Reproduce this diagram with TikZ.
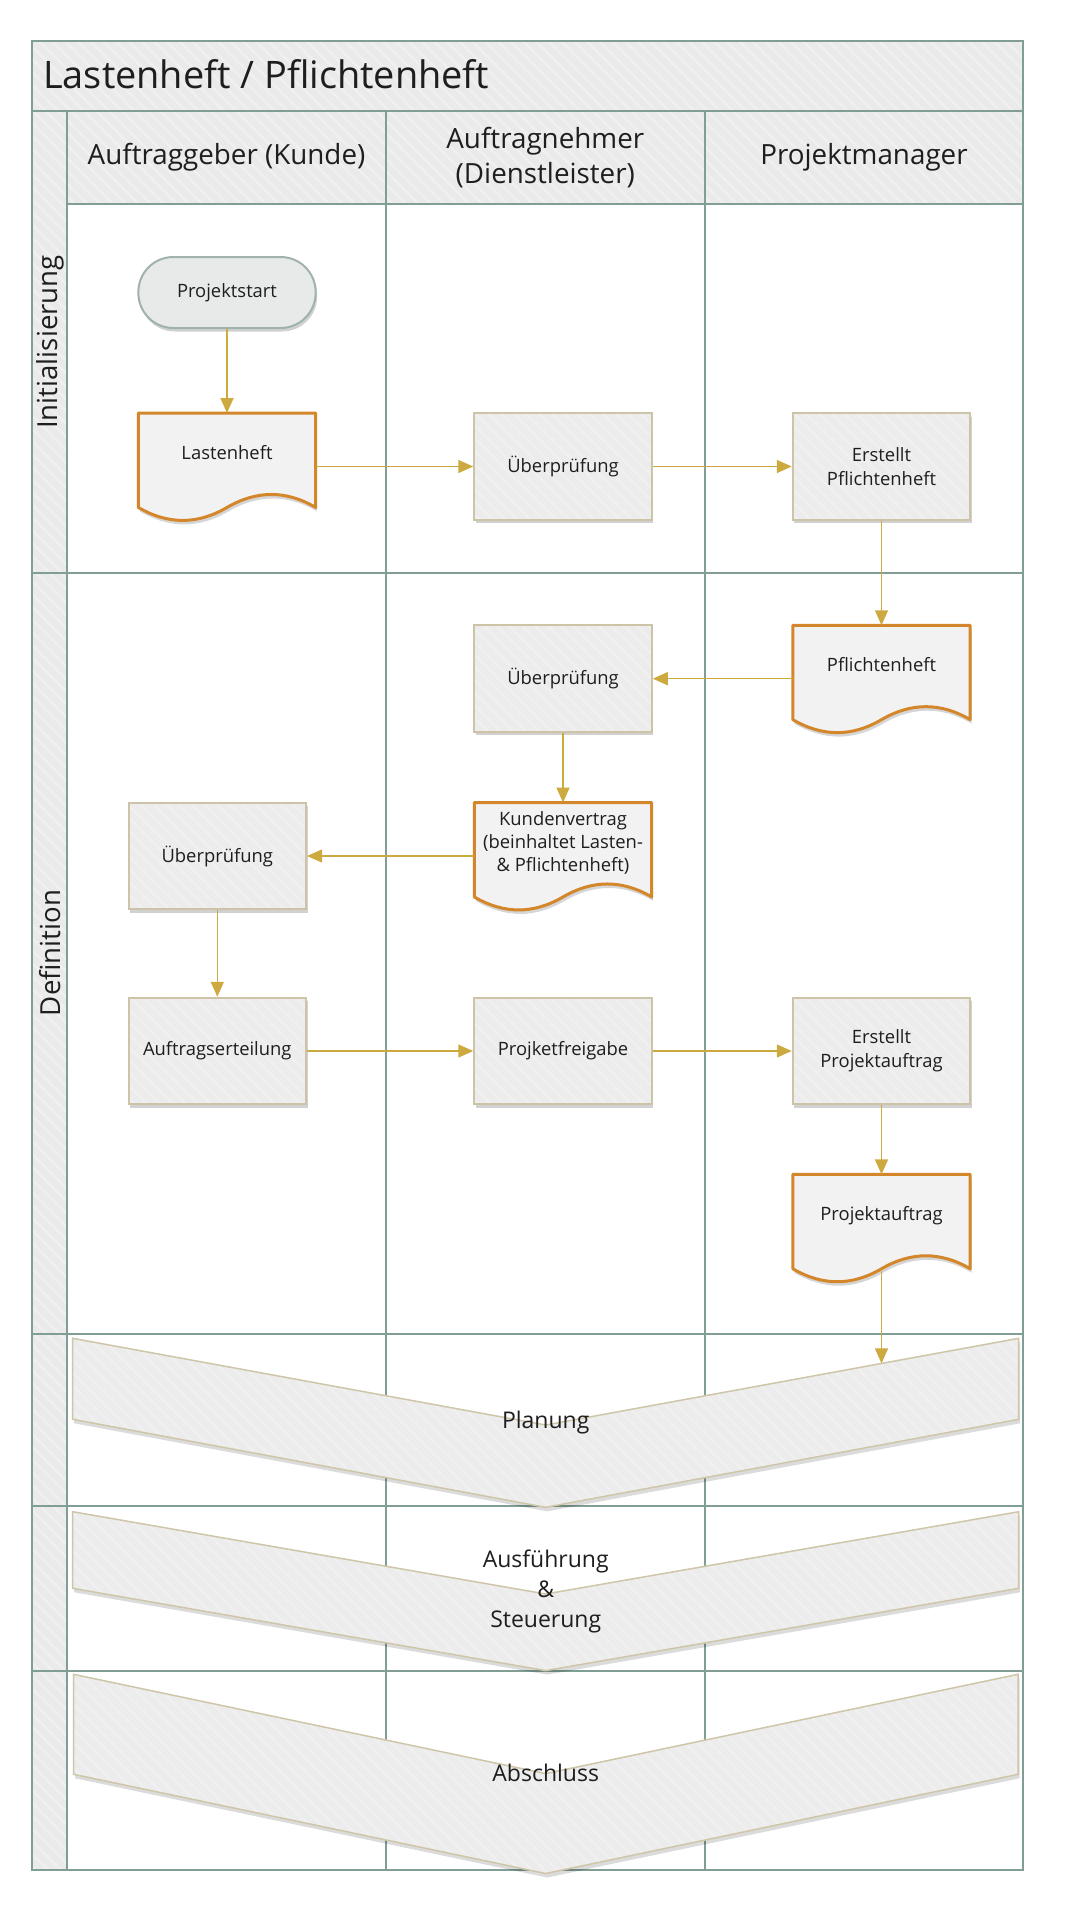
\documentclass[tikz,border=0pt]{standalone}
\usepackage{fontspec}
\setmainfont{Open Sans}
\usetikzlibrary{arrows.meta,calc,patterns.meta,shadows}
\definecolor{laneline}{HTML}{809E95}
\definecolor{hdrfill}{HTML}{EAEAEA}
\definecolor{stripe}{HTML}{F0F0F0}
\definecolor{boxfill}{HTML}{ECECEC}
\definecolor{boxline}{HTML}{CDC4A8}
\definecolor{docfill}{HTML}{F2F2F2}
\definecolor{docline}{HTML}{D4862A}
\definecolor{startfill}{HTML}{E8EAE9}
\definecolor{startline}{HTML}{9FB3AC}
\definecolor{chevfill}{HTML}{ECECEC}
\definecolor{chevline}{HTML}{CFC6A9}
\definecolor{arrowcol}{HTML}{CDAA3F}
\definecolor{txt}{HTML}{1E1E1E}
\newcommand{\boxfont}{\fontsize{18.4}{24.3}\selectfont}
\newcommand{\titlefont}{\fontsize{37.9}{45}\selectfont}
\newcommand{\hdrfont}{\fontsize{27.8}{34.5}\selectfont}
\newcommand{\phasefont}{\fontsize{27.6}{33}\selectfont}
\newcommand{\chevfont}{\fontsize{23}{29.7}\selectfont}
% document outline from a node (rectangle part + wavy bottom)
\newcommand{\docoutline}[2][]{%
  \path[#1] (#2.north west) -- (#2.north east) -- ($(#2.south east)+(0,-12.5)$)
    .. controls ($(#2.south east)+(-29.5,-29.8)$) and ($(#2.south east)+(-59,-29.8)$) .. ($(#2.south)+(0,-12.5)$)
    .. controls ($(#2.south)+(-29.5,4.8)$) and ($(#2.south)+(-59,4.8)$) .. ($(#2.south west)+(0,-12.5)$) -- cycle;}
\begin{document}
\begin{tikzpicture}[x=1pt,y=-1pt,
  stripes/.style={pattern={Lines[angle=-45,distance=9pt,line width=2.5pt]}, pattern color=stripe},
  hatch/.style={fill=hdrfill, postaction={stripes}},
  lane/.style={draw=laneline, line width=2pt},
  procbox/.style={fill=boxfill, minimum width=177.5pt, minimum height=106.5pt,
    inner sep=2pt, outer sep=1pt, align=center, font=\boxfont, text=txt,
    drop shadow={shadow xshift=1.5pt, shadow yshift=-3.5pt, opacity=0.18, fill=black},
    postaction={stripes}, postaction={draw=boxline, line width=2pt}},
  startbox/.style={draw=startline, line width=2pt, fill=startfill, rounded corners=35pt,
    minimum width=177.3pt, minimum height=71pt, inner sep=2pt, font=\boxfont, text=txt,
    drop shadow={shadow xshift=1.5pt, shadow yshift=-3.5pt, opacity=0.18, fill=black}},
  docnode/.style={minimum width=177pt, minimum height=106.5pt, inner sep=0pt},
  docstyle/.style={draw=docline, line width=3pt, fill=docfill, line join=round},
  docshadow/.style={fill=black, opacity=0.16},
  doctext/.style={font=\boxfont, text=txt, align=center, inner sep=1pt},
  chev/.style={fill=chevfill, postaction={stripes}, postaction={draw=chevline, line width=1.5pt}},
  chevshadow/.style={fill=black, opacity=0.14},
  chevtext/.style={font=\chevfont, text=txt, align=center, inner sep=1pt},
  hdrtext/.style={font=\hdrfont, text=txt, align=center, inner sep=1pt},
  phasetext/.style={font=\phasefont, text=txt, inner sep=1pt},
  flow/.style={draw=arrowcol, line width=1.5pt, -{Triangle[length=15pt,width=13pt]}}
]
\useasboundingbox (0,0) rectangle (1070,1911);
\fill[white] (0,0) rectangle (1070,1911);

% header areas
\path[hatch] (31.7,40.7) rectangle (1023.3,111);
\path[hatch] (67.3,111) rectangle (1023.3,204);
\path[hatch] (31.7,111) rectangle (67.3,1870);

% lane lines
\draw[lane] (31.7,40.7) rectangle (1023.3,1870);
\draw[lane] (31.7,111) -- (1023.3,111);
\draw[lane] (67.3,204) -- (1023.3,204);
\foreach \yy in {573,1334,1506,1671} \draw[lane] (31.7,\yy) -- (1023.3,\yy);
\foreach \xx in {67.3,386,704.5} \draw[lane] (\xx,111) -- (\xx,1870);

% texts of title, headers, phases
\node[font=\titlefont, text=txt, anchor=base west, inner sep=0pt] (title) at (43,88.3) {Lastenheft / Pflichtenheft};
\node[hdrtext] (h1) at (226.5,157.5) {Auftraggeber (Kunde)};
\node[hdrtext] (h2) at (545.3,157.5) {Auftragnehmer\\(Dienstleister)};
\node[hdrtext] (h3) at (864,157.5) {Projektmanager};
\node[phasetext, rotate=90] (pinit) at (50,342) {Initialisierung};
\node[phasetext, rotate=90] (pdef) at (50,953) {Definition};

% chevrons
\fill[chevshadow, xshift=1.5pt, yshift=-4pt] (72.7,1338.3) -- (545.7,1425) -- (1018.7,1338.3) -- (1018.7,1419.3) -- (545.7,1507.3) -- (72.7,1419.3) -- cycle;
\path[chev] (72.7,1338.3) -- (545.7,1425) -- (1018.7,1338.3) -- (1018.7,1419.3) -- (545.7,1507.3) -- (72.7,1419.3) -- cycle;
\fill[chevshadow, xshift=1.5pt, yshift=-4pt] (72.7,1511.7) -- (545.7,1594) -- (1018.7,1511.7) -- (1018.7,1588.3) -- (545.7,1670.6) -- (72.7,1588.3) -- cycle;
\path[chev] (72.7,1511.7) -- (545.7,1594) -- (1018.7,1511.7) -- (1018.7,1588.3) -- (545.7,1670.6) -- (72.7,1588.3) -- cycle;
\fill[chevshadow, xshift=1.5pt, yshift=-4pt] (73.5,1674.3) -- (545.7,1773.6) -- (1018,1674.3) -- (1018,1774.3) -- (545.7,1873.5) -- (73.5,1774.3) -- cycle;
\path[chev] (73.5,1674.3) -- (545.7,1773.6) -- (1018,1674.3) -- (1018,1774.3) -- (545.7,1873.5) -- (73.5,1774.3) -- cycle;
\node[chevtext] (tplan) at (545.7,1422.7) {Planung};
\node[chevtext] (taus) at (545.7,1591.6) {Ausführung\\\&\\Steuerung};
\node[chevtext] (tabs) at (545.7,1773.3) {Abschluss};

% process nodes
\node[startbox] (ps) at (227,292.5) {Projektstart};
\node[procbox] (u1) at (563,466.5) {Überprüfung};
\node[procbox] (eph) at (881.5,466.5) {Erstellt\\Pflichtenheft};
\node[procbox] (u2) at (563,678.7) {Überprüfung};
\node[procbox] (u3) at (217.3,856) {Überprüfung};
\node[procbox] (ae) at (217.3,1051) {Auftragserteilung};
\node[procbox] (pf) at (563,1051) {Projketfreigabe};
\node[procbox] (epa) at (881.5,1051) {Erstellt\\Projektauftrag};

% document nodes
\node[docnode] (lh) at (227,466.5) {};
\node[docnode] (ph) at (881.5,678.7) {};
\node[docnode] (kv) at (563,856) {};
\node[docnode] (pa) at (881.5,1227.8) {};
\begin{scope}[transform canvas={xshift=1.5pt,yshift=-4pt}]
  \docoutline[docshadow]{lh}
  \docoutline[docshadow]{ph}
  \docoutline[docshadow]{kv}
  \docoutline[docshadow]{pa}
\end{scope}
\docoutline[docstyle]{lh}
\docoutline[docstyle]{ph}
\docoutline[docstyle]{kv}
\docoutline[docstyle]{pa}
\node[doctext] (lhT) at ($(lh.north)+(0,39.5)$) {Lastenheft};
\node[doctext] (phT) at ($(ph.north)+(0,39.5)$) {Pflichtenheft};
\node[doctext, font=\fontsize{18.4}{23.3}\selectfont] (kvT) at ($(kv.north)+(0,40.5)$) {Kundenvertrag\\(beinhaltet Lasten-\\\& Pflichtenheft)};
\node[doctext] (paT) at ($(pa.north)+(0,41)$) {Projektauftrag};

% connectors
\coordinate (paOut) at ($(pa.south)+(0,-12.5)$);
\coordinate (planIn) at (881.5,1363.4);
\draw[flow] (ps) -- (lh);
\draw[flow] (lh) -- (u1);
\draw[flow] (u1) -- (eph);
\draw[flow] (eph) -- (ph);
\draw[flow] (ph) -- (u2);
\draw[flow] (u2) -- (kv);
\draw[flow] (kv) -- (u3);
\draw[flow] (u3) -- (ae);
\draw[flow] (ae) -- (pf);
\draw[flow] (pf) -- (epa);
\draw[flow] (epa) -- (pa);
\draw[flow] (paOut) -- (planIn);
\end{tikzpicture}
\end{document}
